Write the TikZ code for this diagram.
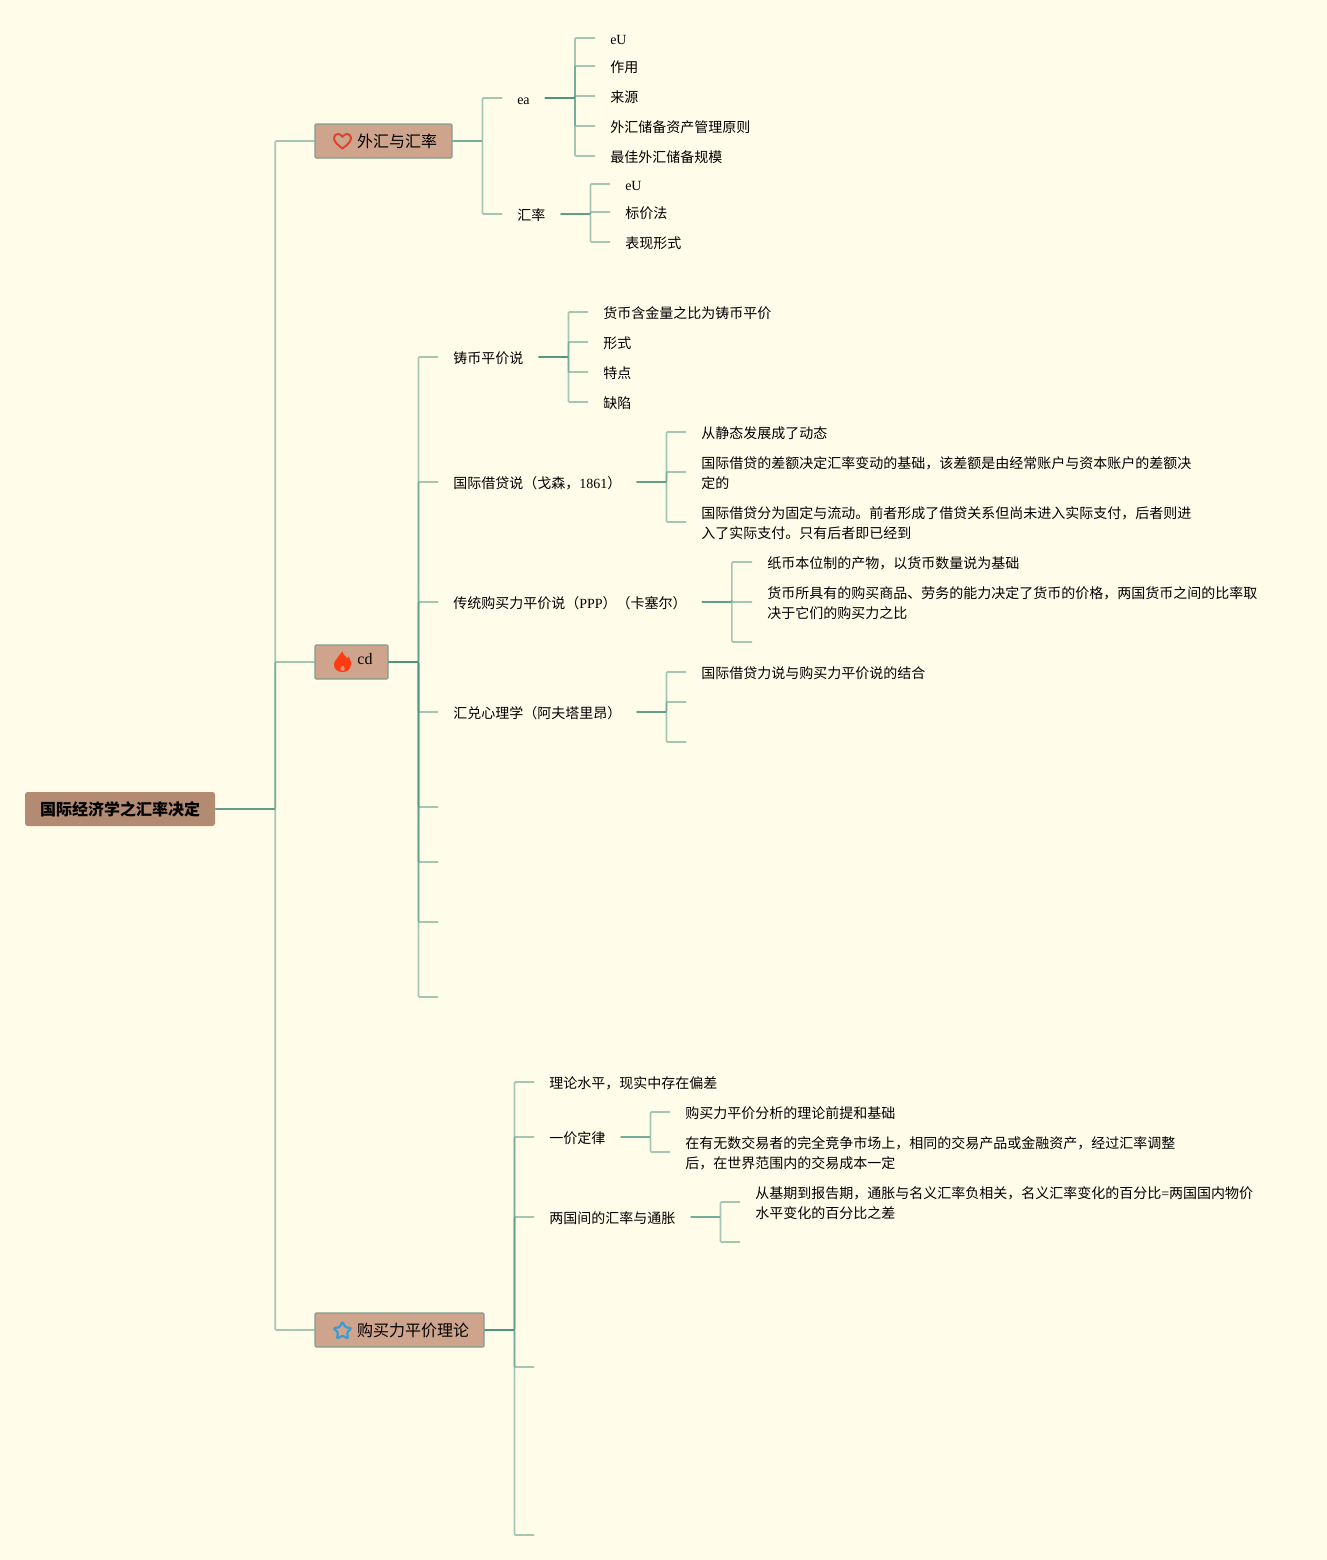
\documentclass[tikz,border=0pt]{standalone}
\usepackage{fontspec}
\setmainfont{Liberation Serif}
\newfontfamily\cjk{Noto Sans CJK SC}
\usetikzlibrary{positioning}
\definecolor{pagebg}{HTML}{FFFCEA}
\definecolor{linkc}{HTML}{4B947E}
\definecolor{boxfill}{HTML}{CFA48C}
\definecolor{rootfill}{HTML}{B38B72}
\definecolor{boxline}{HTML}{7D9F8D}
\definecolor{heartc}{HTML}{D9452E}
\definecolor{flamec}{HTML}{FF3B14}
\definecolor{flamein}{HTML}{F0906C}
\definecolor{starc}{HTML}{3D9AD1}
\newcommand\ls{\rule[-1.9pt]{0pt}{13.1pt}}
\newcommand\ms{\rule[-1.8pt]{0pt}{14pt}}
\newcommand\lt[1]{{\rmfamily #1}}
\newcommand\lk[3]{\draw[linkst] (#1) -- ++(#2,0) |- (#3);}
\tikzset{
  x=0.75pt,y=-0.75pt,
  linkst/.style={draw=linkc,draw opacity=.5,line width=1.2pt,rounded corners=.8pt},
  topic/.style={anchor=west,inner xsep=11.25pt,inner ysep=0pt,align=left,text=black,
    font=\fontsize{10.5}{15}\selectfont\cjk},
  mainbox/.style={anchor=center,draw=boxline,fill=boxfill,line width=.8pt,rounded corners=.8pt,
    minimum height=25.5pt,inner ysep=0pt,inner xsep=11.25pt,text=black,
    font=\fontsize{12}{15}\selectfont\cjk},
  rootbox/.style={anchor=center,fill=rootfill,rounded corners=2pt,minimum height=25.5pt,
    minimum width=142.5pt,inner sep=0pt,text=black,font=\fontsize{12}{15}\selectfont\cjk\bfseries},
}
\begin{document}
\begin{tikzpicture}
\fill[pagebg] (0,0) rectangle (1327,1560);
\useasboundingbox (0,0) rectangle (1327,1560);
% main
\node[rootbox] (root) at (120,809) {\ms\textbf{国际经济学之汇率决定}};
\node[mainbox,minimum width=102.75pt] (wh) at (383.5,141) {\ms\hspace*{20.25pt}外汇与汇率};
\node[mainbox,minimum width=54.75pt] (cd) at (351.5,662) {\hspace*{20.25pt}\raisebox{5pt}{\lt{cd}}};
\node[mainbox,minimum width=126.75pt] (gm) at (399.5,1330) {\ms\hspace*{20.25pt}购买力平价理论};
% branch 1
\node[topic] (ea) at (502,98) {\ls\lt{ea}};
\node[topic] (hl) at (502,214) {\ls 汇率};
\node[topic] (ea1) at (595,38) {\ls\lt{eU}};
\node[topic] (ea2) at (595,66) {\ls 作用};
\node[topic] (ea3) at (595,96) {\ls 来源};
\node[topic] (ea4) at (595,126) {\ls 外汇储备资产管理原则};
\node[topic] (ea5) at (595,156) {\ls 最佳外汇储备规模};
\node[topic] (hl1) at (610,184) {\ls\lt{eU}};
\node[topic] (hl2) at (610,212) {\ls 标价法};
\node[topic] (hl3) at (610,242) {\ls 表现形式};
% branch 2
\node[topic] (zb) at (438,357) {\ls 铸币平价说};
\node[topic] (gj) at (438,482) {\ls 国际借贷说（戈森，\lt{1861}）};
\node[topic] (ct) at (438,602) {\ls 传统购买力平价说（\lt{PPP}）（卡塞尔）};
\node[topic] (hd) at (438,712) {\ls 汇兑心理学（阿夫塔里昂）};
\coordinate (cd5) at (438,807);
\coordinate (cd6) at (438,862);
\coordinate (cd7) at (438,922);
\coordinate (cd8) at (438,997);
\node[topic] (zb1) at (588,312) {\ls 货币含金量之比为铸币平价};
\node[topic] (zb2) at (588,342) {\ls 形式};
\node[topic] (zb3) at (588,372) {\ls 特点};
\node[topic] (zb4) at (588,402) {\ls 缺陷};
\node[topic] (gj1) at (686,432) {\ls 从静态发展成了动态};
\node[topic] (gj2) at (686,472) {\ls 国际借贷的差额决定汇率变动的基础，该差额是由经常账户与资本账户的差额决\\\ls 定的};
\node[topic] (gj3) at (686,522) {\ls 国际借贷分为固定与流动。前者形成了借贷关系但尚未进入实际支付，后者则进\\\ls 入了实际支付。只有后者即已经到};
\node[topic] (ct1) at (752,562) {\ls 纸币本位制的产物，以货币数量说为基础};
\node[topic] (ct2) at (752,602) {\ls 货币所具有的购买商品、劳务的能力决定了货币的价格，两国货币之间的比率取\\\ls 决于它们的购买力之比};
\coordinate (ct3) at (752,642);
\node[topic] (hd1) at (686,672) {\ls 国际借贷力说与购买力平价说的结合};
\coordinate (hd2) at (686,702);
\coordinate (hd3) at (686,742);
% branch 3
\node[topic] (gm1) at (534,1082) {\ls 理论水平，现实中存在偏差};
\node[topic] (gm2) at (534,1137) {\ls 一价定律};
\node[topic] (gm3) at (534,1217) {\ls 两国间的汇率与通胀};
\coordinate (gm4) at (534,1367);
\coordinate (gm5) at (534,1535);
\node[topic] (yj1) at (670,1112) {\ls 购买力平价分析的理论前提和基础};
\node[topic] (yj2) at (670,1152) {\ls 在有无数交易者的完全竞争市场上，相同的交易产品或金融资产，经过汇率调整\\\ls 后，在世界范围内的交易成本一定};
\node[topic] (lg1) at (740,1202) {\ls 从基期到报告期，通胀与名义汇率负相关，名义汇率变化的百分比\lt{=}两国国内物价\\\ls 水平变化的百分比之差};
\coordinate (lg2) at (740,1242);
% connectors
\lk{root.east}{60}{wh.west}
\lk{root.east}{60}{cd.west}
\lk{root.east}{60}{gm.west}
\lk{wh.east}{30}{ea.west}
\lk{wh.east}{30}{hl.west}
\foreach \c in {ea1,ea2,ea3,ea4,ea5}{\lk{ea.east}{30}{\c.west}}
\foreach \c in {hl1,hl2,hl3}{\lk{hl.east}{30}{\c.west}}
\foreach \c in {zb.west,gj.west,ct.west,hd.west,cd5,cd6,cd7,cd8}{\lk{cd.east}{30}{\c}}
\foreach \c in {zb1,zb2,zb3,zb4}{\lk{zb.east}{30}{\c.west}}
\foreach \c in {gj1,gj2,gj3}{\lk{gj.east}{30}{\c.west}}
\foreach \c in {ct1.west,ct2.west,ct3}{\lk{ct.east}{30}{\c}}
\foreach \c in {hd1.west,hd2,hd3}{\lk{hd.east}{30}{\c}}
\foreach \c in {gm1.west,gm2.west,gm3.west,gm4,gm5}{\lk{gm.east}{30}{\c}}
\foreach \c in {yj1,yj2}{\lk{gm2.east}{30}{\c.west}}
\foreach \c in {lg1.west,lg2}{\lk{gm3.east}{30}{\c}}
% icons
\begin{scope}[shift={(342.5,141)}]
\draw[draw=heartc,line width=1.5pt,line join=round]
  (0,7.5) .. controls (-4,4.5) and (-8.5,1) .. (-8.5,-3) .. controls (-8.5,-5.6) and (-6.6,-7) .. (-4.6,-7)
  .. controls (-2.8,-7) and (-1,-6) .. (0,-4.2) .. controls (1,-6) and (2.8,-7) .. (4.6,-7)
  .. controls (6.6,-7) and (8.5,-5.6) .. (8.5,-3) .. controls (8.5,1) and (4,4.5) .. (0,7.5) -- cycle;
\end{scope}
\begin{scope}[shift={(342.5,662)}]
\fill[flamec]
  (0,-10.5) .. controls (1,-6) and (4,-5.5) .. (5,-3.5) .. controls (5.3,-4.5) and (5.5,-5) .. (6,-5.5)
  .. controls (8.5,-2) and (9,2) .. (8,4.5) .. controls (7,8) and (3.5,10) .. (0,10)
  .. controls (-4.5,10) and (-8.5,7.5) .. (-8.5,3) .. controls (-8.5,-1) and (-6,-2.5) .. (-4.5,-5)
  .. controls (-3,-7) and (-2,-8.5) .. (0,-10.5) -- cycle;
\fill[flamein]
  (0.3,3.5) .. controls (0.8,5) and (2.4,5.5) .. (2.4,7) .. controls (2.4,8.2) and (1.2,8.8) .. (0,8.8)
  .. controls (-1.2,8.8) and (-2.4,8.2) .. (-2.4,7) .. controls (-2.4,5.8) and (-0.6,5) .. (0.3,3.5) -- cycle;
\end{scope}
\begin{scope}[shift={(342.5,1331)}]
\draw[draw=starc,line width=1.6pt,line join=round,rounded corners=.9pt]
  (0,-9.5) -- (2.8,-3.8) -- (9,-2.9) -- (4.5,1.4) -- (5.6,7.7) -- (0,4.7) -- (-5.6,7.7)
  -- (-4.5,1.4) -- (-9,-2.9) -- (-2.8,-3.8) -- cycle;
\end{scope}
\end{tikzpicture}
\end{document}
